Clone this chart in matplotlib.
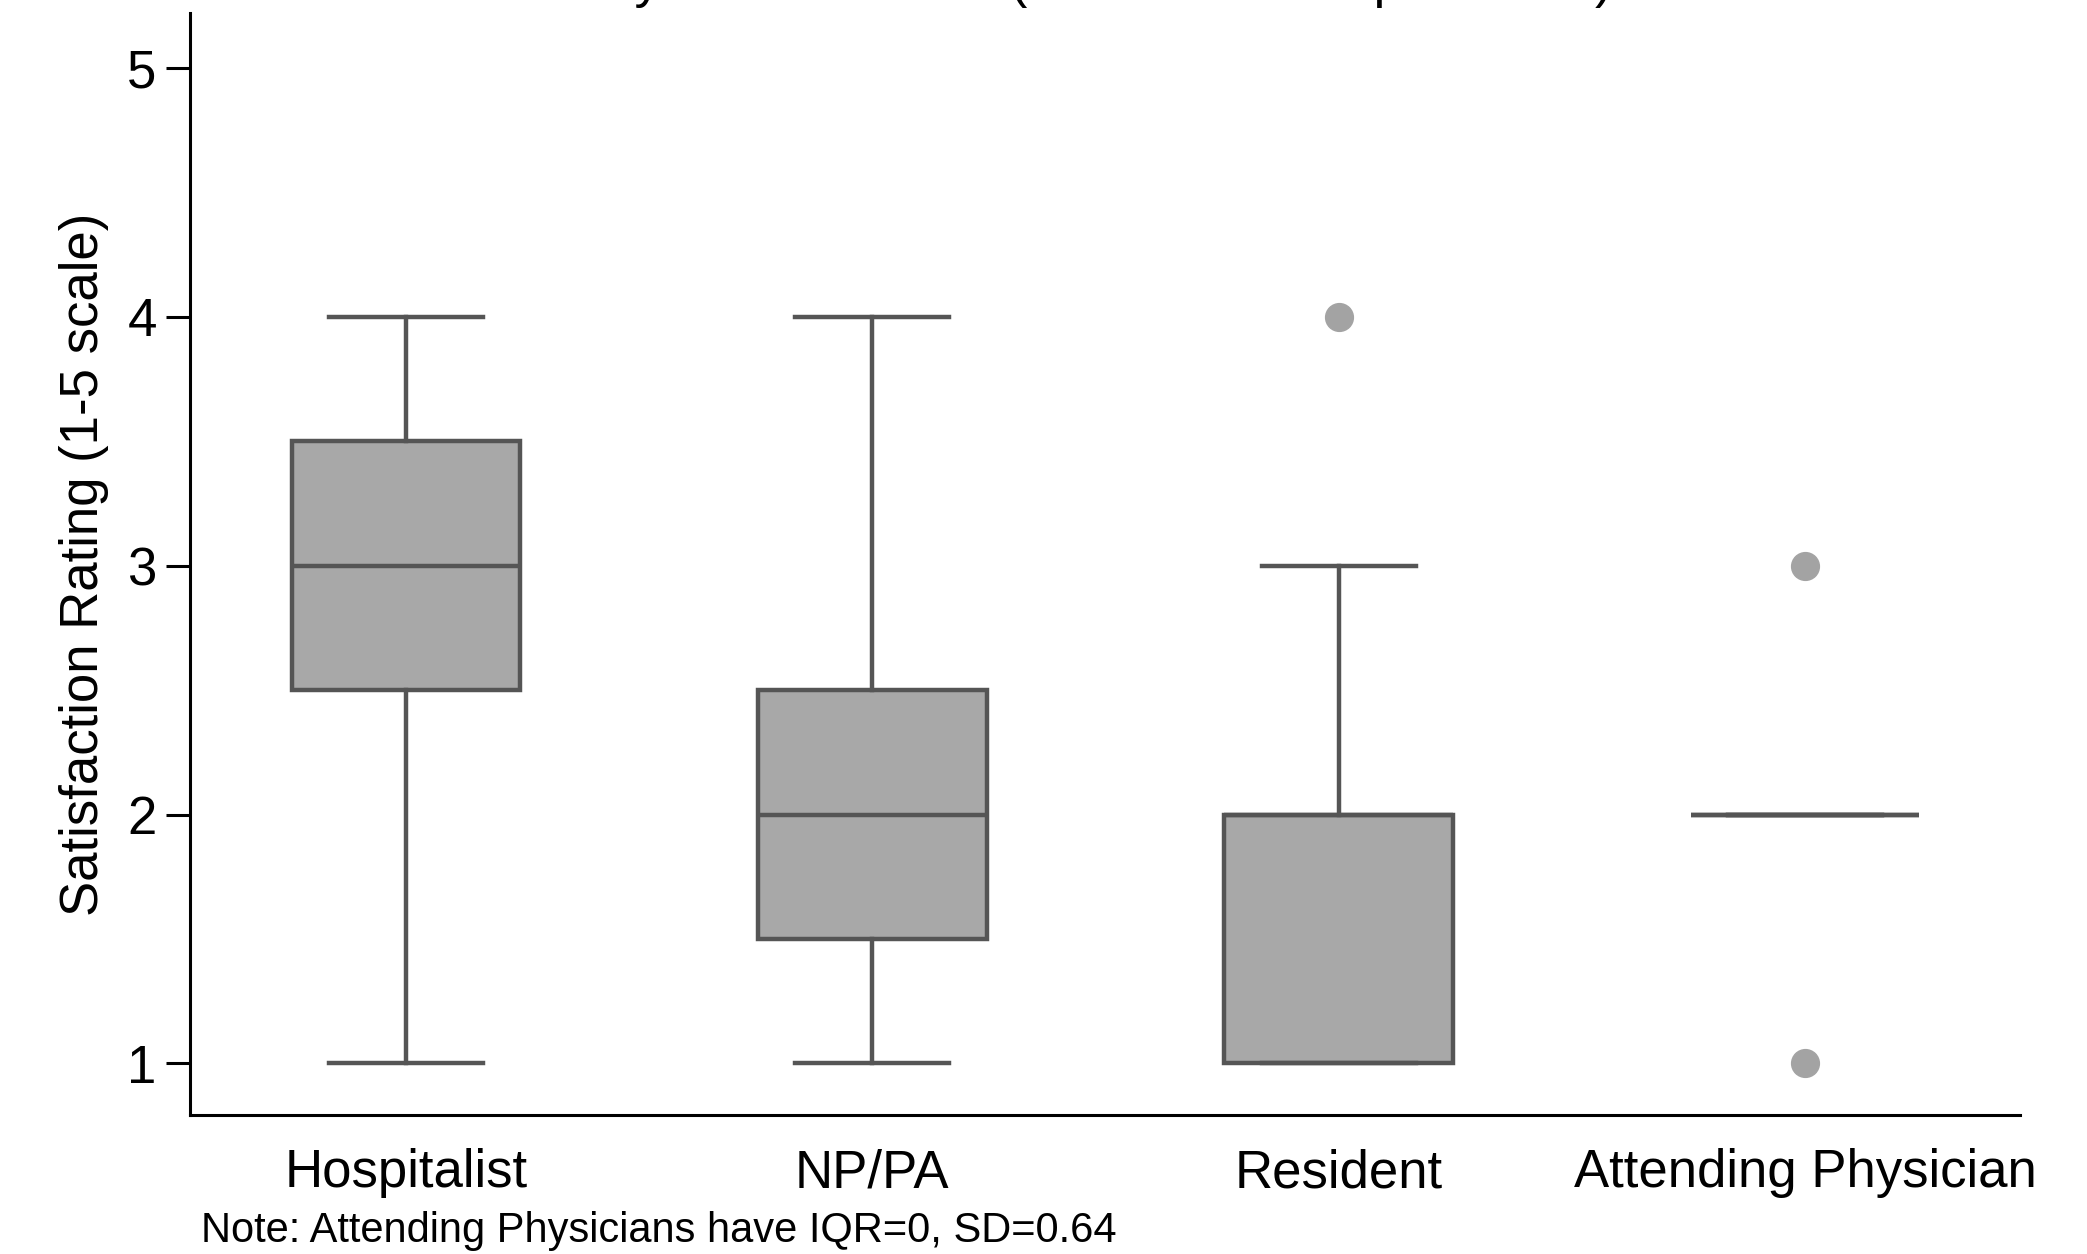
import matplotlib
matplotlib.use("Agg")
import matplotlib.pyplot as plt

# ---- data ----
categories = ["Hospitalist", "NP/PA", "Resident", "Attending Physician"]
q1 = [2.5, 1.5, 1.0, 2.0]
medians = [3.0, 2.0, 2.0, 2.0]
q3 = [3.5, 2.5, 2.0, 2.0]
whisker_low = [1.0, 1.0, 1.0, 2.0]
whisker_high = [4.0, 4.0, 3.0, 2.0]
outliers = [[], [], [4.0], [3.0, 1.0]]
y_ticks = [1, 2, 3, 4, 5]

title_text = "Satisfaction by Provider Role (Kruskal-Wallis p=0.0004)"
y_label = "Satisfaction Rating (1-5 scale)"
note_text = "Note: Attending Physicians have IQR=0, SD=0.64"

plt.rcParams["font.family"] = ["Liberation Sans", "DejaVu Sans"]

W, H, DPI = 2087, 1254, 100
fig = plt.figure(figsize=(W / DPI, H / DPI), dpi=DPI)
ax = fig.add_axes([190 / W, 1 - 1115 / H, (2020 - 190) / W, (1115 - 13) / H])

stats = []
for i, c in enumerate(categories):
    stats.append(dict(label=c, med=medians[i], q1=q1[i], q3=q3[i],
                      whislo=whisker_low[i], whishi=whisker_high[i],
                      fliers=outliers[i]))

edge = "#555555"
lw = 3.2
ax.bxp(stats, positions=range(len(categories)), widths=0.49, capwidths=0.33,
       patch_artist=True, showfliers=True,
       boxprops=dict(facecolor="#a8a8a8", edgecolor=edge, linewidth=lw),
       medianprops=dict(color=edge, linewidth=lw),
       whiskerprops=dict(color=edge, linewidth=lw),
       capprops=dict(color=edge, linewidth=lw),
       flierprops=dict(marker="o", markersize=20, markerfacecolor="#a3a3a3",
                       markeredgecolor="#a3a3a3"))

ax.set_xlim(-0.463, 3.461)
ax.set_ylim(0.793, 5.22)
ax.set_yticks(y_ticks)
ax.set_yticklabels([str(v) for v in y_ticks])
ax.set_xticks(range(len(categories)))
ax.set_xticklabels(categories)

for s in ("top", "right"):
    ax.spines[s].set_visible(False)
for s in ("left", "bottom"):
    ax.spines[s].set_color("black")
    ax.spines[s].set_linewidth(2.2)

ax.tick_params(axis="y", length=17, width=2.2, color="black", pad=7, labelsize=38)
ax.tick_params(axis="x", length=0, pad=24, labelsize=38)
ax.set_ylabel(y_label, fontsize=38, labelpad=13)

fig.text(201 / W, 12 / H, note_text, fontsize=30, ha="left", va="baseline")
fig.text(965 / W, 1 + 3 / H, title_text, fontsize=38, ha="center", va="baseline")

fig.savefig("out.png", dpi=DPI)
